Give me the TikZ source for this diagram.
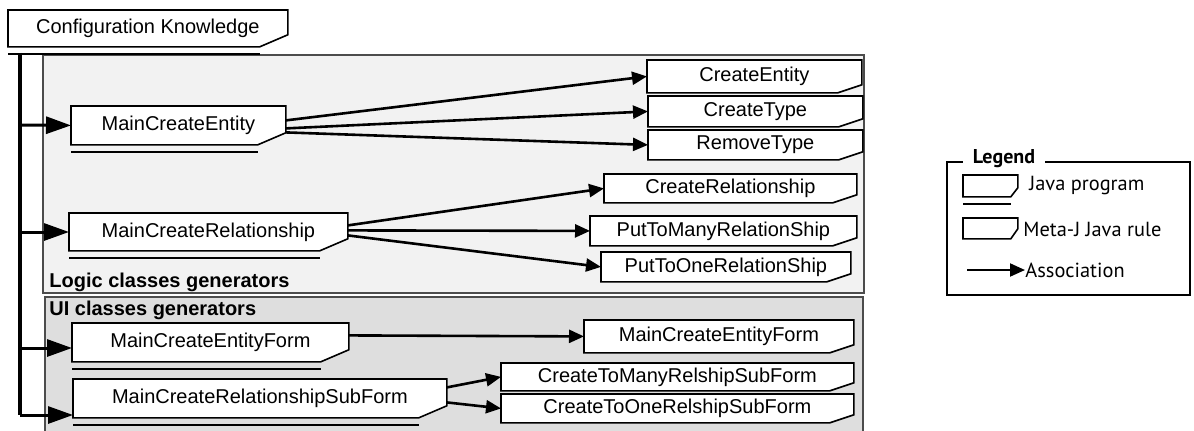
\documentclass[tikz,border=0pt]{standalone}
\usepackage{fontspec}
\setmainfont{Liberation Sans}
\newfontfamily\legendfont{PT Sans}
\usetikzlibrary{arrows.meta,calc}
\pgfdeclarelayer{panels}
\pgfdeclarelayer{frames}
\pgfsetlayers{panels,frames,main}

% outline with cut lower right corner: node, cut in x, cut in y
\newcommand\cutframe[3]{%
  \begin{pgfonlayer}{frames}
    \filldraw[frame] (#1.north west) -- (#1.north east) -- ([yshift=#3]#1.south east)
      -- ([xshift=-#2]#1.south east) -- (#1.south west) -- cycle;
  \end{pgfonlayer}}
% java program = cut box + underline
\newcommand\progframe[1]{\cutframe{#1}{14pt}{6pt}%
  \draw[frame] ([yshift=-3.5pt]#1.south west) -- ([xshift=-14pt,yshift=-3.5pt]#1.south east);}
\newcommand\metarule[1]{\cutframe{#1}{12pt}{4pt}}

\begin{document}
\begin{tikzpicture}[x=0.5pt, y=-0.5pt,
  box/.style={anchor=north west, inner sep=0pt, font=\fontsize{10}{12}\selectfont},
  frame/.style={draw=black, fill=white, line width=0.8pt},
  panel/.style={draw=black!70, line width=0.8pt},
  assoc/.style={-{Triangle[length=7.5pt,width=6.5pt]}, line width=1.3pt},
  feed/.style={-{Triangle[length=12.5pt,width=8.5pt]}, line width=1.5pt},
  group/.style={anchor=west, inner sep=0pt, font=\fontsize{10}{12}\selectfont\bfseries},
  legend/.style={anchor=west, inner sep=0pt, font=\legendfont\fontsize{10.2}{12}\selectfont}]
  \useasboundingbox (0,0) rectangle (1194,430);

  % generator panels
  \begin{pgfonlayer}{panels}
    \draw[panel, fill=black!5] (43,55) rectangle (864,293);
    \draw[panel, fill=black!13, line width=1.1pt] (45,297) rectangle (863,440);
  \end{pgfonlayer}
  \node[group] (logic) at (49,282) {Logic classes generators};
  \node[group] (ui) at (49,310) {UI classes generators};

  % java programs
  \node[box, minimum width=139.5pt, minimum height=18pt] (ck) at (8,10) {Configuration Knowledge};
  \node[box, minimum width=107pt, minimum height=19pt] (mce) at (71,106) {MainCreateEntity};
  \node[box, minimum width=139pt, minimum height=18.5pt] (mcr) at (69,213) {MainCreateRelationship};
  \node[box, minimum width=138pt, minimum height=19pt] (mcef) at (72,323) {MainCreateEntityForm};
  \node[box, minimum width=186.5pt, minimum height=19pt] (mcrs) at (73,379) {MainCreateRelationshipSubForm};
  \foreach \n in {ck,mce,mcr,mcef,mcrs} {\progframe{\n}}

  % meta-j rules
  \node[box, minimum width=107pt, minimum height=16pt] (ce) at (647,60) {CreateEntity};
  \node[box, minimum width=107pt, minimum height=15pt] (ct) at (648,96) {CreateType};
  \node[box, minimum width=107pt, minimum height=14.5pt] (rt) at (648,130) {RemoveType};
  \node[box, minimum width=126pt, minimum height=14pt] (cr) at (604,174) {CreateRelationship};
  \node[box, minimum width=133pt, minimum height=14.5pt] (ptm) at (590,216) {PutToManyRelationShip};
  \node[box, minimum width=124.5pt, minimum height=14.5pt] (pto) at (601,252) {PutToOneRelationShip};
  \node[box, minimum width=134.5pt, minimum height=16pt] (mcefr) at (584,320) {MainCreateEntityForm};
  \node[box, minimum width=176pt, minimum height=13.5pt] (ctm) at (501,363) {CreateToManyRelshipSubForm};
  \node[box, minimum width=176pt, minimum height=14pt] (cto) at (501,394) {CreateToOneRelshipSubForm};
  \foreach \n in {ce,ct,rt,cr,ptm,pto,mcefr,ctm,cto} {\metarule{\n}}

  % trunk from configuration knowledge
  \coordinate (t1) at (20,125);
  \coordinate (t2) at (20,232);
  \coordinate (t3) at (20,348);
  \coordinate (t4) at (20,415);
  \draw[line width=1.6pt] (ck.south west -| t4) ++(0,6) -- (t4);
  \draw[feed] (t1) -- (mce.west);
  \draw[feed] (t2) -- (t2 -| mcr.west);
  \draw[feed] (t3) -- (t3 -| mcef.west);
  \draw[feed] (t4) -- (t4 -| mcrs.west);

  % associations
  \draw[assoc] ([yshift=2.5pt]mce.east) -- (ce.west);
  \draw[assoc] ([yshift=-1.5pt]mce.east) -- (ct.west);
  \draw[assoc] ([yshift=-3.5pt]mce.east) -- (rt.west);
  \draw[assoc] ([yshift=3.25pt]mcr.east) -- (cr.west);
  \draw[assoc] ([yshift=0.75pt]mcr.east) -- (ptm.west);
  \draw[assoc] ([yshift=-1.75pt]mcr.east) -- (pto.west);
  \draw[assoc] ([yshift=3.5pt]mcef.east) -- (mcefr.west);
  \draw[assoc] ([yshift=5.5pt]mcrs.east) -- (ctm.west);
  \draw[assoc] ([yshift=-2pt]mcrs.east) -- (cto.west);

  % legend
  \draw[line width=0.6pt] (947,162) rectangle (1190,295);
  \node[fill=white, inner xsep=5pt, inner ysep=1pt, font=\legendfont\fontsize{10}{12}\selectfont\bfseries] (lg) at (1004,159) {Legend};
  \node[box, minimum width=27pt, minimum height=10.5pt] (jp) at (963,175) {};
  \cutframe{jp}{3.5pt}{4.5pt}
  \draw[frame] ([yshift=-3.5pt]jp.south west) -- ([xshift=-3.5pt,yshift=-3.5pt]jp.south east);
  \node[box, minimum width=27pt, minimum height=10pt] (mj) at (963,218) {};
  \cutframe{mj}{3.5pt}{5pt}
  \node[legend] (ljp) at (1029,186) {Java program};
  \node[legend] (lmj) at (1023,229) {Meta-J Java rule};
  \node[legend] (las) at (1025,270) {Association};
  \coordinate (a0) at (967,270);
  \draw[assoc, line width=1pt] (a0) -- (las.west);
\end{tikzpicture}
\end{document}
